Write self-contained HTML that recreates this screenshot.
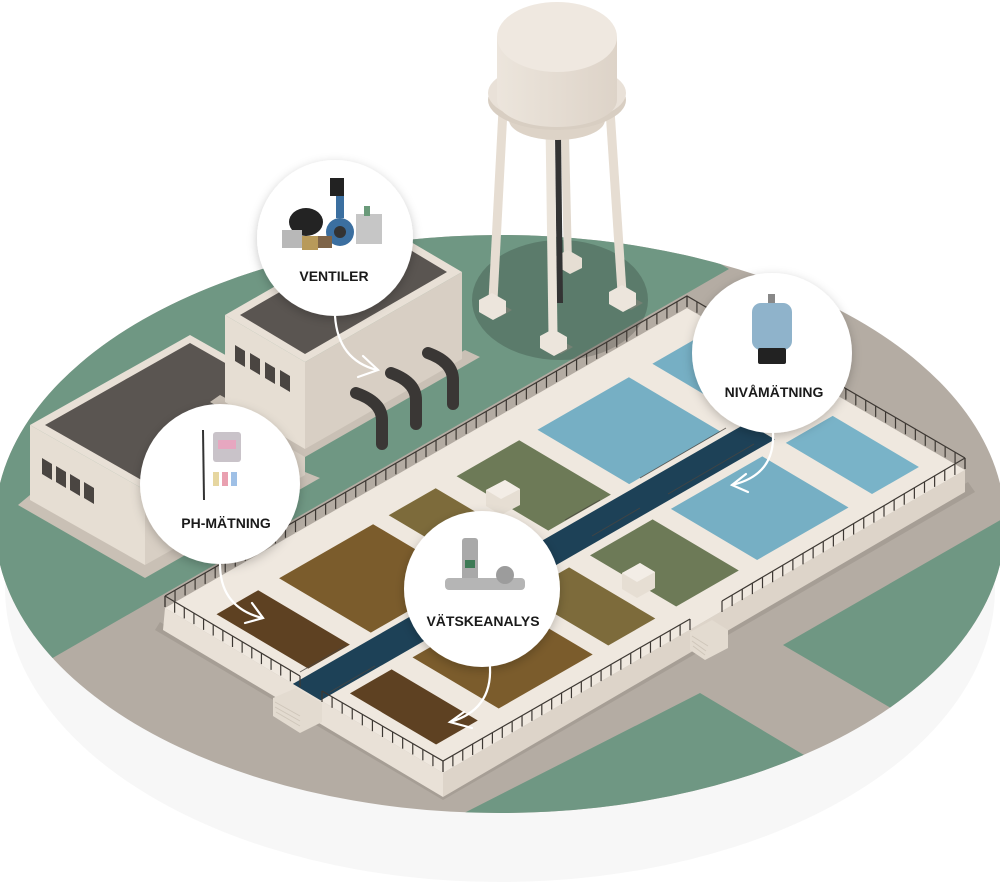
<!DOCTYPE html>
<html><head><meta charset="utf-8"><style>
html,body{margin:0;padding:0;background:#fff;width:1000px;height:887px;overflow:hidden}
svg{display:block}
text{font-family:"Liberation Sans",sans-serif;font-weight:bold;fill:#1a1a1a;text-anchor:middle}
</style></head><body>
<svg id="s" width="1000" height="887" viewBox="0 0 1000 887" xmlns="http://www.w3.org/2000/svg">
<defs>
<clipPath id="disk"><ellipse cx="500" cy="524" rx="505" ry="289"/></clipPath>
<filter id="sh" x="-30%" y="-30%" width="160%" height="160%"><feDropShadow dx="0" dy="3" stdDeviation="5" flood-color="#000" flood-opacity="0.22"/></filter>
<linearGradient id="cyl" x1="0" x2="1"><stop offset="0" stop-color="#ece5dc"/><stop offset="1" stop-color="#ddd3c8"/></linearGradient>
</defs>
<ellipse cx="500" cy="588" rx="495" ry="294" fill="#f7f7f7"/>
<ellipse cx="500" cy="524" rx="505" ry="289" fill="#b4aca3"/>
<g clip-path="url(#disk)" fill="#6f9783">
<polygon points="-10,694 729,269 560,168 -10,168"/>
<polygon points="783,645 1150,434 1250,600 990,766"/>
<polygon points="700,693 950,842 400,1000 -100,1100"/>
<ellipse cx="560" cy="300" rx="88" ry="60" fill="#000" opacity="0.18"/>
</g>
<polygon points="155,630 443,800 975,492 968,482 443,790 160,622" fill="#9d958c" opacity="0.6"/>
<polygon points="165,608 443,773 443,797 163,630" fill="#e9e1d7"/>
<polygon points="443,773 965,470 965,492 443,797" fill="#ddd4c9"/>
<polygon points="165,608 687,308 965,470 443,773" fill="#efe8df"/>
<polygon points="216.5,614.2 258.2,590.2 349.9,644.6 308.2,668.6" fill="#5e4122"/>
<polygon points="279.1,578.2 373.1,524.2 464.8,578.6 370.8,632.6" fill="#7b5c2c"/>
<polygon points="388.7,515.2 435.7,488.2 527.4,542.6 480.4,569.6" fill="#7d6b3b"/>
<polygon points="456.6,476.2 519.2,440.2 610.9,494.6 548.3,530.6" fill="#6d7a57"/>
<polygon points="537.5,429.7 628.9,377.2 720.6,431.6 629.2,484.1" fill="#76afc4"/>
<polygon points="652.4,363.7 699.3,336.7 791,391.1 744.1,418.1" fill="#76afc4"/>
<polygon points="349.9,693.4 391.6,669.4 477.8,720.5 436.1,744.5" fill="#5e4122"/>
<polygon points="412.5,657.4 506.5,603.4 592.7,654.5 498.7,708.5" fill="#7b5c2c"/>
<polygon points="522.1,594.4 569.1,567.4 655.3,618.5 608.3,645.5" fill="#7d6b3b"/>
<polygon points="590,555.4 652.6,519.4 738.8,570.5 676.2,606.5" fill="#6d7a57"/>
<polygon points="670.9,508.9 762.3,456.4 848.5,507.5 757.1,560" fill="#76afc4"/>
<polygon points="785.8,442.9 832.7,415.9 918.9,467 872,494" fill="#79b3c8"/>
<polygon points="292.9,683.9 747,422.9 774.8,439.4 320.7,700.4" fill="#1d4157"/>
<g stroke="#4a4540" stroke-width="1" fill="none" opacity="0.8">
<line x1="300" y1="672" x2="345" y2="646"/><line x1="330" y1="692" x2="375" y2="666"/>
<line x1="565" y1="520" x2="600" y2="500"/><line x1="592" y1="536" x2="640" y2="508"/>
<line x1="640" y1="478" x2="726" y2="428"/><line x1="668" y1="494" x2="754" y2="444"/>
</g>
<polygon points="486,490 505,480 520,489 520,505 501,515 486,506" fill="#e6ded3"/>
<polygon points="486,490 505,480 520,489 501,499" fill="#f3ede6"/>
<polygon points="622,573 640,563 655,572 655,588 637,598 622,589" fill="#e6ded3"/>
<polygon points="622,573 640,563 655,572 637,582" fill="#f3ede6"/>
<polygon points="273,698 296,688 322,703 322,722 300,733 273,716" fill="#e3dbd0"/>
<g stroke="#cfc6ba" stroke-width="1"><line x1="275" y1="702" x2="300" y2="716"/><line x1="275" y1="707" x2="300" y2="721"/><line x1="276" y1="712" x2="300" y2="726"/></g>
<polygon points="690,632 712,620 728,630 728,648 705,660 690,650" fill="#e3dbd0"/>
<g stroke="#cfc6ba" stroke-width="1"><line x1="692" y1="636" x2="708" y2="646"/><line x1="692" y1="641" x2="706" y2="651"/><line x1="693" y1="646" x2="705" y2="655"/></g>
<g id="fence" stroke="#3d3833" stroke-width="1.2" fill="none">
<polyline points="165,596 687,296 965,458"/>
<polyline points="165,596 300,676"/>
<polyline points="322,691 443,761 690,619"/>
<polyline points="722,601 965,458"/>
</g>
<polygon points="18,505 145,578 320,478 300,470 145,560 30,495" fill="#c9c0b5"/>
<polygon points="30,425 145,490 145,565 30,500" fill="#e6ded3"/>
<polygon points="145,490 305,400 305,475 145,565" fill="#d8cfc4"/>
<polygon points="30,425 190,335 305,400 145,490" fill="#e8e0d6"/>
<polygon points="45,425 190,343 290,400 145,482" fill="#5a5551"/>
<g fill="#4a4541"><polygon points="42,458 52,464 52,480 42,474"/><polygon points="56,466 66,472 66,488 56,482"/><polygon points="70,474 80,480 80,496 70,490"/><polygon points="84,482 94,488 94,504 84,498"/></g>
<polygon points="210,402 305,457 480,357 465,350 305,442 220,395" fill="#c9c0b5"/>
<polygon points="225,315 305,362 305,449 225,402" fill="#e6ded3"/>
<polygon points="305,362 462,272 462,359 305,449" fill="#d8cfc4"/>
<polygon points="225,315 382,225 462,272 305,362" fill="#e8e0d6"/>
<polygon points="240,315 382,233 447,272 305,354" fill="#5a5551"/>
<g fill="#4a4541"><polygon points="235,345 245,351 245,367 235,361"/><polygon points="250,353 260,359 260,375 250,369"/><polygon points="265,362 275,368 275,384 265,378"/><polygon points="280,370 290,376 290,392 280,386"/></g>
<g stroke="#3a3735" stroke-width="12" fill="none" stroke-linecap="round">
<path d="M356,393 Q382,402 382,420 L382,444"/>
<path d="M391,373 Q416,382 416,400 L416,424"/>
<path d="M428,353 Q453,362 453,380 L453,404"/>
</g>
<g>
<polygon points="480,306 492,299 512,310 500,317" fill="#8f877e" opacity="0.5"/>
<polygon points="541,343 553,336 573,347 561,354" fill="#8f877e" opacity="0.5"/>
<polygon points="611,299 623,292 643,303 631,310" fill="#8f877e" opacity="0.5"/>
<line x1="565" y1="135" x2="568" y2="263" stroke="#e2d9ce" stroke-width="8"/>
<polygon points="556,256 568,250 582,258 582,268 570,274 556,266" fill="#e6ded3"/>
<line x1="558" y1="135" x2="560" y2="303" stroke="#333" stroke-width="6"/>
<line x1="503" y1="110" x2="493" y2="300" stroke="#e6ddd2" stroke-width="9"/>
<line x1="610" y1="110" x2="622" y2="292" stroke="#e6ddd2" stroke-width="9"/>
<line x1="550" y1="125" x2="553" y2="335" stroke="#ebe4da" stroke-width="9"/>
<polygon points="479,300 492,293 506,301 506,313 493,320 479,312" fill="#ece5dc"/>
<polygon points="609,292 622,285 636,293 636,305 623,312 609,304" fill="#ece5dc"/>
<polygon points="540,336 553,329 567,337 567,349 554,356 540,348" fill="#ece5dc"/>
<ellipse cx="557" cy="120" rx="48" ry="20" fill="#ddd3c7"/>
<ellipse cx="557" cy="100" rx="69" ry="30" fill="#d8cec2"/>
<ellipse cx="557" cy="93" rx="69" ry="30" fill="#e9e1d8"/>
<path d="M497,37 L497,100 A60,27 0 0 0 617,100 L617,37 Z" fill="url(#cyl)"/>
<ellipse cx="557" cy="37" rx="60" ry="35" fill="#efe8e0"/>
</g>
<g filter="url(#sh)" fill="#fff">
<circle cx="335" cy="238" r="78"/>
<circle cx="220" cy="484" r="80"/>
<circle cx="772" cy="353" r="80"/>
<circle cx="482" cy="589" r="78"/>
</g>
<rect x="330" y="178" width="14" height="18" fill="#222"/>
<rect x="336" y="196" width="8" height="22" fill="#3b6fa0"/>
<circle cx="340" cy="232" r="14" fill="#3b6fa0"/>
<circle cx="340" cy="232" r="6" fill="#333"/>
<ellipse cx="306" cy="222" rx="17" ry="14" fill="#232323"/>
<rect x="282" y="230" width="20" height="18" fill="#b8b8b8"/>
<rect x="302" y="236" width="16" height="14" fill="#b89a5a"/>
<rect x="318" y="236" width="14" height="12" fill="#7e6448"/>
<rect x="356" y="214" width="26" height="30" fill="#c6c6c6"/>
<rect x="364" y="206" width="6" height="10" fill="#6a9a7a"/>
<text x="334" y="281" font-size="14">VENTILER</text>
<line x1="203" y1="430" x2="204" y2="500" stroke="#333" stroke-width="2"/>
<rect x="213" y="432" width="28" height="30" rx="3" fill="#c9c3c9"/>
<rect x="218" y="440" width="18" height="9" fill="#e7a7c0"/>
<rect x="213" y="472" width="6" height="14" fill="#e6d6a0"/>
<rect x="222" y="472" width="6" height="14" fill="#e9a0b0"/>
<rect x="231" y="472" width="6" height="14" fill="#9fc0e6"/>
<text x="226" y="528" font-size="14">PH-MÄTNING</text>
<rect x="768" y="294" width="7" height="10" fill="#888"/>
<rect x="752" y="303" width="40" height="47" rx="9" fill="#8fb3cb"/>
<rect x="758" y="348" width="28" height="16" rx="2" fill="#222"/>
<text x="774" y="397" font-size="14">NIVÅMÄTNING</text>
<rect x="462" y="538" width="16" height="44" rx="3" fill="#a9a9a9"/>
<rect x="465" y="560" width="10" height="8" fill="#3d7a55"/>
<rect x="445" y="578" width="80" height="12" rx="4" fill="#b5b5b5"/>
<circle cx="505" cy="575" r="9" fill="#9c9c9c"/>
<text x="483" y="626" font-size="14">VÄTSKEANALYS</text>
<g stroke="#fff" stroke-width="2.2" fill="none" stroke-linecap="round">
<path d="M335,316 Q338,360 377,370"/><path d="M363,356 L378,370 L358,377"/>
<path d="M220,564 Q220,607 262,618"/><path d="M252,603 L263,618 L245,623"/>
<path d="M490,667 Q492,710 450,722"/><path d="M464,712 L450,722 L472,728"/>
<path d="M773,433 Q775,475 732,485"/><path d="M746,474 L732,485 L748,492"/>
</g>
<script>
(function(){
var ns="http://www.w3.org/2000/svg",g=document.getElementById("fence");
function posts(x1,y1,x2,y2,n){for(var i=0;i<=n;i++){var x=x1+(x2-x1)*i/n,y=y1+(y2-y1)*i/n;var l=document.createElementNS(ns,"line");l.setAttribute("x1",x);l.setAttribute("y1",y);l.setAttribute("x2",x);l.setAttribute("y2",y+11);g.appendChild(l);}}
posts(165,596,687,296,52);posts(687,296,965,458,28);posts(165,596,300,676,14);posts(322,691,443,761,12);posts(443,761,690,619,25);posts(722,601,965,458,24);
})();
</script>
</svg>
</body></html>
